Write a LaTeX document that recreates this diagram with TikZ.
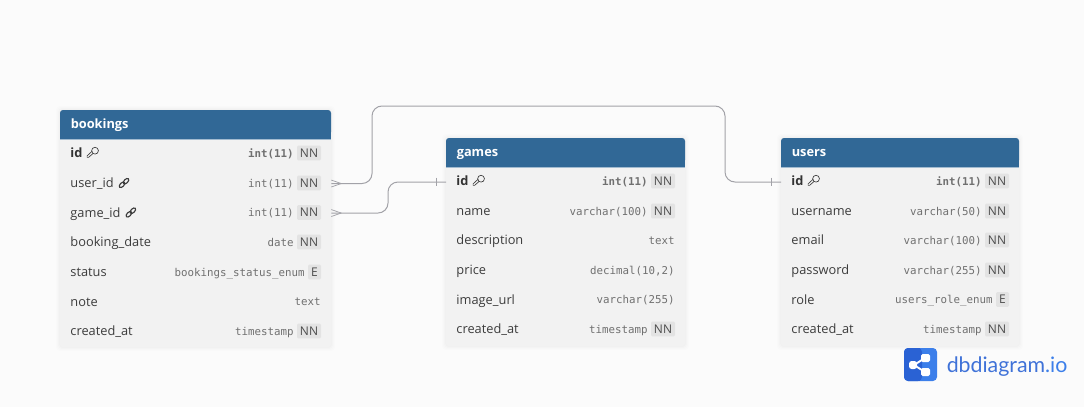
\documentclass[tikz,border=0pt]{standalone}
\usepackage{fontspec}
\setmainfont{Open Sans}
\newfontfamily\monof{DejaVu Sans Mono}
\newfontfamily\logof{Lato}
\definecolor{bgc}{HTML}{FBFBFB}
\definecolor{headc}{HTML}{316896}
\definecolor{bodyc}{HTML}{F2F2F2}
\definecolor{namec}{HTML}{3C3C3C}
\definecolor{typec}{HTML}{707070}
\definecolor{tagc}{HTML}{E3E3E3}
\definecolor{linec}{HTML}{A2A2A8}
\definecolor{logod}{HTML}{2A62D4}
\definecolor{logol}{HTML}{3C7FEA}
\tikzset{
  rowbox/.style={inner sep=0pt,minimum height=22pt},
  fname/.style={inner sep=0pt,anchor=base west,text=namec,font=\fontsize{9.6}{12}\selectfont},
  fid/.style={fname,font=\fontsize{9.6}{12}\selectfont\bfseries,text=black!80},
  ftype/.style={inner sep=0pt,anchor=base east,text=typec,font=\monof\fontsize{8.1}{12}\selectfont},
  ftag/.style={inner sep=0pt,rounded corners=1pt,fill=tagc,minimum height=11.2pt,text=black!70,font=\fontsize{9}{11}\selectfont},
  thead/.style={inner sep=0pt,anchor=base west,text=white,font=\fontsize{9.6}{12}\selectfont\bfseries},
  rel/.style={draw=linec,line width=0.75pt},
  relend/.style={draw=linec,line width=0.55pt},
  icon/.style={draw=namec,line width=0.5pt}
}
% table: id, left, right, top, header bottom, bottom, title
\newcommand{\dbtable}[7]{
  \def\tl{#2}\def\tr{#3}\def\tid{#1}
  \foreach \o/\op in {4/.006,3/.008,2/.01,1/.012}
    \fill[black,opacity=\op,rounded corners=3pt] ({#2-\o},{#4-\o}) rectangle ({#3+\o},{#6+\o});
  \path[fill=bodyc,rounded corners=1.5pt] (#2,#5) rectangle (#3,#6);
  \fill[bodyc] (#2,#5) rectangle (#3,{#5+8});
  \fill[headc,rounded corners=2.2pt] (#2,#4) rectangle (#3,{#5-4});
  \fill[headc] (#2,{#4+6}) rectangle (#3,#5);
  \draw[headc!45!white,line width=0.4pt] (#2,#5) -- (#3,#5);
  \node[thead] (#1-title) at ({#2+10.5},{(#4+#5)/2+3.8}) {#7};
}
% row: id, y, name, type, tag, tag width, name style
\newcommand{\dbrow}[7]{
  \node[rowbox,minimum width={(\tr-\tl)*0.75pt}] (\tid-#1) at ({(\tl+\tr)/2},#2) {};
  \node[#7] (\tid-#1-name) at ({\tl+10.2},{#2+4.6}) {#3};
  \ifdim #6pt>0pt
    \node[ftag,minimum width={#6*0.75pt}] (\tid-#1-tag) at ({\tr-10-#6/2},{#2}) {#5};
    \node[ftype] (\tid-#1-type) at ({\tr-10-#6-3},{#2+4}) {#4};
  \else
    \node[ftype] (\tid-#1-type) at ({\tr-10},{#2+4}) {#4};
  \fi
}
\newcommand{\keyicon}[1]{
  \begin{scope}[shift={(#1)}]
    \begin{scope}[shift={(5,-4.6)}]
    \draw[icon] (7.3,-2.3) circle[radius=3.4];
    \draw[icon,line join=round] (5.4,0.4) -- (0.8,4.4) -- (-0.6,4.4) -- (-0.6,2.8) -- (4.4,-1.8);
    \end{scope}
  \end{scope}
}
\newcommand{\linkicon}[1]{
  \begin{scope}[shift={(#1)}]
    \begin{scope}[shift={(5.5,-4.6)}]
    \draw[namec,line width=0.85pt,rotate around={45:(6.6,-1.8)}] (6.6,-1.8) ellipse[x radius=3.4,y radius=1.9];
    \draw[namec,line width=0.85pt,rotate around={45:(2.6,1.8)}] (2.6,1.8) ellipse[x radius=3.4,y radius=1.9];
    \end{scope}
  \end{scope}
}
\begin{document}
\begin{tikzpicture}[x=0.75pt,y=-0.75pt]
\useasboundingbox[fill=bgc] (0,0) rectangle (1084,407);

\dbtable{bookings}{60}{331}{110}{139}{347}{bookings}
\dbrow{id}{153}{id}{\bfseries int(11)}{NN}{24}{fid}
\dbrow{user}{183}{user\_id}{int(11)}{NN}{24}{fname}
\dbrow{game}{212.5}{game\_id}{int(11)}{NN}{24}{fname}
\dbrow{date}{242}{booking\_date}{date}{NN}{24}{fname}
\dbrow{status}{272}{status}{bookings\_status\_enum}{E}{13}{fname}
\dbrow{note}{301.5}{note}{text}{}{0}{fname}
\dbrow{created}{331}{created\_at}{timestamp}{NN}{24}{fname}
\keyicon{bookings-id-name.base east}
\linkicon{bookings-user-name.base east}
\linkicon{bookings-game-name.base east}

\dbtable{games}{446}{685}{138}{167}{346}{games}
\dbrow{id}{181}{id}{\bfseries int(11)}{NN}{24}{fid}
\dbrow{name}{211}{name}{varchar(100)}{NN}{24}{fname}
\dbrow{desc}{240}{description}{text}{}{0}{fname}
\dbrow{price}{270}{price}{decimal(10,2)}{}{0}{fname}
\dbrow{image}{299.5}{image\_url}{varchar(255)}{}{0}{fname}
\dbrow{created}{329}{created\_at}{timestamp}{NN}{24}{fname}
\keyicon{games-id-name.base east}

\dbtable{users}{781}{1019}{138}{167}{346}{users}
\dbrow{id}{181}{id}{\bfseries int(11)}{NN}{24}{fid}
\dbrow{username}{211}{username}{varchar(50)}{NN}{24}{fname}
\dbrow{email}{240}{email}{varchar(100)}{NN}{24}{fname}
\dbrow{password}{270}{password}{varchar(255)}{NN}{24}{fname}
\dbrow{role}{299.5}{role}{users\_role\_enum}{E}{13}{fname}
\dbrow{created}{329}{created\_at}{timestamp}{NN}{24}{fname}
\keyicon{users-id-name.base east}

% relations
\coordinate (bendA) at (372,106);
\coordinate (bendB) at (725,106);
\coordinate (bendC) at (388,182);
\coordinate (endU) at (781,182);
\coordinate (endG) at (446,182);
\draw[rel,rounded corners=7.5pt] ([yshift=-0.4pt]bookings-user.east) -| (bendA) -- (bendB) |- (endU);
\draw[rel,rounded corners=7.5pt] ([yshift=-0.4pt]bookings-game.east) -| (bendC) -- (endG);
\foreach \e in {bookings-user,bookings-game}{
  \draw[relend] ([xshift=7.5pt,yshift=-0.4pt]\e.east) -- ([yshift=2.2pt]\e.east);
  \draw[relend] ([xshift=7.5pt,yshift=-0.4pt]\e.east) -- ([yshift=-3pt]\e.east);
}
\foreach \e in {endG,endU}{
  \draw[relend] ([xshift=-7.5pt,yshift=3.2pt]\e) -- ([xshift=-7.5pt,yshift=-3.2pt]\e);
}

% logo
\begin{scope}
  \fill[logol,rounded corners=3pt] (904,348) rectangle (937,381);
  \fill[logod,rounded corners=3pt] (904,348) rectangle (922,381);
  \fill[logod] (915,348) rectangle (920,381);
  \draw[white,line width=1.4pt] (925,358) -- (914,365) -- (925,372);
  \fill[white,rounded corners=1.2pt] (921,354) rectangle (930,362);
  \fill[white,rounded corners=1.2pt] (921,368) rectangle (930,376);
  \fill[white,rounded corners=2pt] (909,361) rectangle (917,369);
\end{scope}
\node[inner sep=0pt,anchor=base west,text=logod!90!white,font=\logof\fontsize{16}{18}\selectfont] (logotext) at (946.5,372) {dbdiagram\textcolor{logol}{.io}};
\end{tikzpicture}
\end{document}
